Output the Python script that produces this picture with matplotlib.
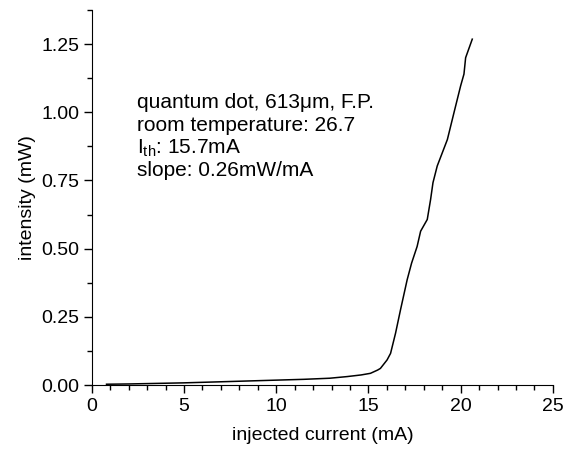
import matplotlib
matplotlib.use("Agg")
import matplotlib.pyplot as plt
from matplotlib.ticker import MultipleLocator, FormatStrFormatter

plt.rcParams['font.family'] = ['Liberation Sans', 'DejaVu Sans']
plt.rcParams['mathtext.fontset'] = 'custom'
plt.rcParams['mathtext.rm'] = 'Liberation Sans'
plt.rcParams['mathtext.it'] = 'Liberation Sans'

current = [0.8, 2.0, 3.5, 4.96, 6.5, 8.0, 10.0, 11.5, 12.9, 13.84, 14.6, 15.11, 15.5, 15.65,
           16.01, 16.2, 16.47, 16.74, 17.10, 17.34, 17.64, 17.83, 18.19, 18.37, 18.50,
           18.73, 19.28, 19.64, 20.0, 20.18, 20.27, 20.63]
intensity = [0.003, 0.004, 0.006, 0.008, 0.011, 0.014, 0.018, 0.021, 0.025, 0.031, 0.037, 0.043, 0.055, 0.061,
             0.092, 0.116, 0.190, 0.276, 0.386, 0.447, 0.508, 0.564, 0.607, 0.680, 0.742,
             0.803, 0.900, 0.999, 1.097, 1.140, 1.200, 1.268]

fig = plt.figure(figsize=(5.63, 4.53), dpi=100)
ax = fig.add_axes([0.163, 0.150, 0.819, 0.828])
ax.plot(current, intensity, color='black', lw=1.1)
ax.set_xlim(0, 25)
ax.set_ylim(0, 1.375)
ax.xaxis.set_major_locator(MultipleLocator(5))
ax.xaxis.set_minor_locator(MultipleLocator(1))
ax.yaxis.set_major_locator(MultipleLocator(0.25))
ax.yaxis.set_minor_locator(MultipleLocator(0.125))
ax.yaxis.set_major_formatter(FormatStrFormatter('%.2f'))
for s in ['top', 'right']:
    ax.spines[s].set_visible(False)
ax.tick_params(which='major', direction='out', length=6, width=1, labelsize=14, pad=3)
ax.tick_params(which='minor', direction='out', length=3.5, width=1)
ax.set_xlabel('injected current (mA)', fontsize=14, labelpad=9)
ax.set_ylabel('intensity (mW)', fontsize=14, labelpad=4)

lines = ['quantum dot, 613μm, F.P.', 'room temperature: 26.7',
         r'I$_{\mathregular{th}}$: 15.7mA', 'slope: 0.26mW/mA']
for i, t in enumerate(lines):
    ax.text(0.0985, 0.738 - i * 0.06, t, transform=ax.transAxes, fontsize=15,
            va='baseline', ha='left')

fig.savefig('out.png', dpi=100)
